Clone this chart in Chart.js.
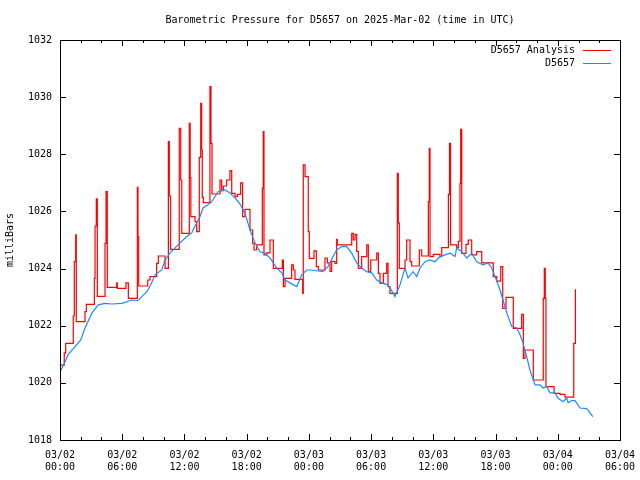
<!DOCTYPE html>
<html>
<head>
<meta charset="utf-8">
<script src="https://cdn.jsdelivr.net/npm/chart.js@4/dist/chart.umd.min.js"></script>
<style>
html,body{margin:0;padding:0;background:#fff;}
canvas{display:block;}
</style>
</head>
<body>
<canvas id="c" width="640" height="480"></canvas>
<script>
const chartTitle = "Barometric Pressure for D5657 on 2025-Mar-02 (time in UTC)";
const yAxisTitle = "milliBars";
const seriesNames = ["D5657 Analysis", "D5657"];
const xTickLabels = [
  ["03/02","00:00"],["03/02","06:00"],["03/02","12:00"],["03/02","18:00"],
  ["03/03","00:00"],["03/03","06:00"],["03/03","12:00"],["03/03","18:00"],
  ["03/04","00:00"],["03/04","06:00"]
];
// hours since 2025-03-02 00:00 UTC
const blueHours = [0,0.5,0.8,1.45,2.0,2.41,3.06,3.69,4.34,5.0,5.98,6.91,7.5,7.88,8.4,8.84,9.16,9.81,10.13,10.61,11.38,12.22,12.70,13.18,13.50,13.79,14.27,14.63,15.24,15.91,16.39,16.88,17.36,17.84,18.32,18.80,19.29,19.77,20.25,20.90,21.38,21.70,22.18,22.83,23.31,23.79,24.27,25.36,25.84,26.33,26.68,27.16,27.65,28.13,28.61,29.09,29.58,30.06,30.54,31.02,31.63,32.11,32.30,32.79,33.27,33.56,34.04,34.40,34.72,35.20,35.68,36.16,36.64,37.61,38.09,38.25,38.74,39.22,39.70,40.18,40.79,41.27,41.63,41.95,42.43,42.72,43.08,43.56,44.04,44.36,44.65,45.00,45.32,45.81,46.29,46.58,46.93,47.25,47.73,48.02,48.50,48.86,49.00,49.34,49.66,50.14,50.79,51.37];
const blueValues = [1020.38,1020.75,1021.0,1021.27,1021.5,1021.92,1022.43,1022.73,1022.78,1022.76,1022.78,1022.90,1022.88,1023.02,1023.2,1023.50,1023.78,1023.95,1024.30,1024.54,1024.83,1025.12,1025.25,1025.60,1025.82,1026.12,1026.23,1026.34,1026.69,1026.75,1026.65,1026.47,1026.26,1025.94,1025.35,1024.90,1024.59,1024.54,1024.37,1024.02,1023.85,1023.60,1023.50,1023.37,1023.78,1023.95,1023.95,1023.89,1024.07,1024.42,1024.65,1024.77,1024.77,1024.54,1024.20,1024.02,1023.89,1023.85,1023.60,1023.50,1023.43,1023.15,1023.02,1023.43,1024.02,1023.67,1023.89,1023.72,1024.02,1024.24,1024.30,1024.24,1024.42,1024.54,1024.42,1024.72,1024.59,1024.37,1024.54,1024.24,1024.13,1024.20,1024.02,1023.72,1023.25,1022.90,1022.45,1021.97,1021.92,1021.68,1021.40,1020.92,1020.45,1019.93,1019.93,1019.82,1019.87,1019.65,1019.65,1019.47,1019.34,1019.47,1019.30,1019.38,1019.38,1019.12,1019.10,1018.82];
const redHours = [0,0.41,0.55,1.28,1.38,1.51,1.57,2.41,2.54,3.31,3.38,3.50,3.60,4.34,4.44,4.56,5.47,5.53,6.36,6.59,7.46,7.52,7.59,8.46,8.68,9.32,9.48,10.13,10.45,10.54,10.67,11.50,11.64,11.74,12.47,12.55,12.62,13.02,13.18,13.43,13.57,13.66,13.72,13.82,14.46,14.56,14.66,15.43,15.59,15.75,16.07,16.39,16.56,16.88,17.10,17.42,17.61,17.84,18.32,18.58,18.71,18.97,19.51,19.60,19.67,19.93,20.25,20.57,21.44,21.54,21.70,22.34,22.50,22.66,23.40,23.46,23.63,23.94,24.04,24.49,24.72,24.91,25.55,25.78,26.04,26.20,26.52,26.68,26.74,28.13,28.28,28.45,28.61,28.77,29.09,29.58,29.73,29.96,30.54,30.70,30.86,31.18,31.50,31.63,31.82,32.53,32.62,32.72,33.27,33.43,33.75,33.91,34.65,34.88,35.52,35.61,35.68,36.00,36.64,36.81,37.45,37.56,37.66,38.25,38.41,38.57,38.64,38.74,39.15,39.37,39.70,40.18,40.67,41.78,42.11,42.50,42.69,43.01,43.71,44.52,44.68,44.84,45.64,46.60,46.70,46.79,46.86,47.64,48.22,48.70,49.54,49.70];
const redValues = [1020.62,1021.05,1021.38,1022.34,1024.24,1025.18,1022.14,1022.49,1022.75,1023.66,1025.49,1026.44,1023.03,1024.88,1026.69,1023.34,1023.5,1023.31,1023.5,1022.96,1026.84,1025.12,1023.39,1023.6,1023.72,1024.18,1024.44,1024.01,1028.44,1026.54,1024.67,1028.91,1027.1,1025.23,1029.08,1027.18,1025.82,1025.64,1025.29,1027.89,1029.78,1028.15,1026.49,1026.31,1030.37,1028.38,1026.61,1027.1,1026.73,1026.89,1027.1,1027.43,1026.63,1026.52,1026.6,1027.0,1025.82,1026.07,1025.35,1024.88,1024.65,1024.83,1026.81,1028.79,1024.48,1024.55,1025.0,1024.01,1024.3,1023.37,1023.66,1024.13,1023.95,1023.62,1023.13,1027.63,1027.22,1025.29,1024.36,1024.62,1024.07,1023.95,1024.37,1024.2,1023.9,1024.25,1024.18,1025.02,1024.83,1025.23,1025.0,1025.2,1024.6,1024.01,1024.42,1024.83,1023.89,1024.3,1024.54,1023.83,1023.48,1023.83,1024.18,1023.37,1023.13,1027.33,1025.6,1024.01,1024.3,1025.0,1024.24,1024.09,1024.65,1024.44,1026.34,1028.21,1024.42,1024.5,1024.42,1024.73,1026.6,1028.38,1024.83,1024.73,1024.95,1026.98,1028.87,1024.53,1024.85,1025.0,1024.48,1024.59,1024.2,1023.72,1023.56,1024.07,1022.61,1022.99,1021.91,1022.4,1020.86,1021.15,1020.1,1022.96,1024.01,1022.96,1019.87,1019.63,1019.6,1019.5,1021.38,1023.28];

const RED = "#ff0000";
const BLUE = "#1a8cff";
const FONT = '"DejaVu Sans Mono", "Liberation Mono", monospace';

function toPoints(xs, ys){ return xs.map((x,i)=>({x:x, y:ys[i]})); }

const decor = {
  id: "decor",
  afterDraw(chart){
    const ctx = chart.ctx, a = chart.chartArea;
    const xs = chart.scales.x, ys = chart.scales.y;
    ctx.save();
    ctx.strokeStyle = "#000"; ctx.lineWidth = 1;
    ctx.strokeRect(Math.round(a.left)+0.5, Math.round(a.top)+0.5, Math.round(a.right-a.left), Math.round(a.bottom-a.top));
    ctx.beginPath();
    for (let h = 0; h <= 54; h += 2) {
      const px = Math.round(xs.getPixelForValue(h)) + 0.5;
      const len = (h % 6 === 0) ? 6 : 3;
      ctx.moveTo(px, a.bottom); ctx.lineTo(px, a.bottom - len);
      ctx.moveTo(px, a.top); ctx.lineTo(px, a.top + len);
    }
    for (let v = 1018; v <= 1032; v += 2) {
      const py = Math.round(ys.getPixelForValue(v)) + 0.5;
      ctx.moveTo(a.left, py); ctx.lineTo(a.left + 6, py);
      ctx.moveTo(a.right, py); ctx.lineTo(a.right - 6, py);
    }
    ctx.stroke();
    ctx.fillStyle = "#000";
    ctx.font = "10px " + FONT;
    ctx.textAlign = "center"; ctx.textBaseline = "middle";
    ctx.fillText(chartTitle, (a.left + a.right) / 2, 20);
    const colors = [RED, BLUE];
    ctx.textAlign = "right";
    for (let i = 0; i < seriesNames.length; i++) {
      const y = 50 + i * 13;
      ctx.fillStyle = "#000";
      ctx.fillText(seriesNames[i], 575, y);
      ctx.strokeStyle = colors[i];
      ctx.beginPath();
      ctx.moveTo(583, Math.round(y) + 0.5); ctx.lineTo(611, Math.round(y) + 0.5);
      ctx.stroke();
    }
    ctx.restore();
  }
};

new Chart(document.getElementById("c"), {
  type: "line",
  data: {
    datasets: [
      { label: seriesNames[0], data: toPoints(redHours, redValues), borderColor: RED, borderWidth: 1.2, pointRadius: 0, stepped: "before", tension: 0, fill: false, order: 1 },
      { label: seriesNames[1], data: toPoints(blueHours, blueValues), borderColor: BLUE, borderWidth: 1.2, pointRadius: 0, tension: 0, fill: false, order: 0 }
    ]
  },
  options: {
    responsive: false,
    animation: false,
    events: [],
    layout: { padding: { top: 40, right: 20, left: 0, bottom: 0 } },
    plugins: { legend: { display: false }, title: { display: false }, tooltip: { enabled: false } },
    scales: {
      x: {
        type: "linear", min: 0, max: 54,
        grid: { display: false, drawTicks: false },
        border: { display: false },
        ticks: {
          stepSize: 6, padding: 9, maxRotation: 0, autoSkip: false,
          color: "#000", font: { family: FONT, size: 10 },
          callback: (v) => xTickLabels[Math.round(v / 6)]
        },
        afterFit: (s) => { s.height = 40; s.paddingLeft = 0; s.paddingRight = 0; }
      },
      y: {
        type: "linear", min: 1018, max: 1032,
        grid: { display: false, drawTicks: false },
        border: { display: false },
        title: { display: true, text: yAxisTitle, color: "#000", font: { family: FONT, size: 10 }, padding: { top: 4, bottom: 0 } },
        ticks: { stepSize: 2, padding: 8, color: "#000", font: { family: FONT, size: 10 }, callback: (v) => String(v) },
        afterFit: (s) => { s.width = 60; s.paddingTop = 0; s.paddingBottom = 0; }
      }
    }
  },
  plugins: [decor]
});
</script>
</body>
</html>
